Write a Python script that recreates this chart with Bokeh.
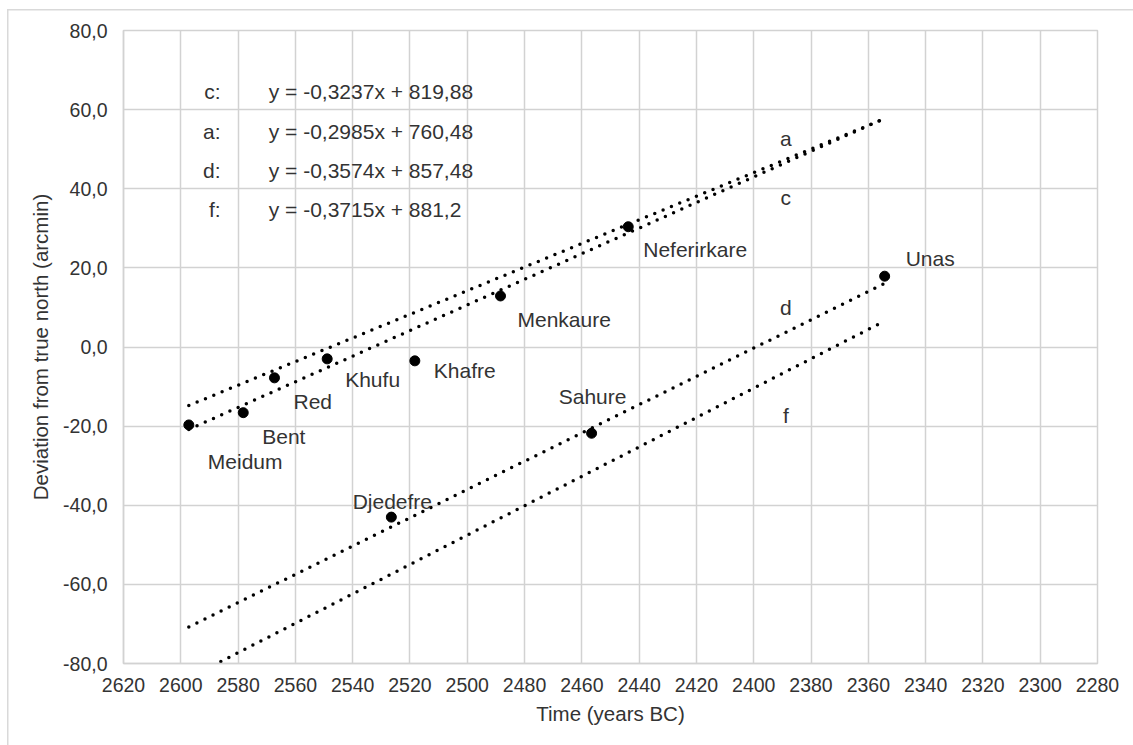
from bokeh.plotting import figure
from bokeh.models import Range1d, FixedTicker, ColumnDataSource
from bokeh.embed import file_html
from bokeh.resources import INLINE
from bokeh.core.properties import value

# ---- data ----
pyramids = ["Meidum", "Bent", "Red", "Khufu", "Djedefre", "Khafre",
            "Menkaure", "Sahure", "Neferirkare", "Unas"]
years = [2597.2, 2578.2, 2567.3, 2548.9, 2526.5, 2518.3,
         2488.4, 2456.6, 2443.8, 2354.3]
deviation = [-19.7, -16.6, -7.8, -3.0, -43.0, -3.5,
             12.9, -21.8, 30.4, 17.9]

trend_names = ["c", "a", "d", "f"]
trend_slopes = [-0.3237, -0.2985, -0.3574, -0.3715]
trend_intercepts = [819.88, 760.48, 857.48, 881.2]

x_ticks = list(range(2620, 2279, -20))
y_ticks = list(range(-80, 81, 20))

# ---- styling / placement ----
FONT = value("Liberation Sans")
FS_TICK = "19.5px"
FS_TEXT = "21px"
FS_TITLE = "20.5px"
TXT = "#333333"
GRID = "#d2d2d2"

label_dx = [19, 19, 19, 18, 1, 19, 17, 1, 15, 21]
label_dy = [37, 24, 24, 21, -16, 10, 24, -37, 23, -18]
label_align = ["left", "left", "left", "left", "center", "left",
               "left", "center", "left", "left"]

p = figure(width=1133, height=745, output_backend="svg", toolbar_location=None,
           x_range=Range1d(2620, 2280), y_range=Range1d(-80, 80),
           min_border_left=123, min_border_right=36,
           min_border_top=30, min_border_bottom=82)

# outer chart border (left and top edges visible in the reference), drawn as CSS background
p.border_fill_color = None
p.background_fill_color = "white"
p.styles = {
    "background-color": "white",
    "background-image": "linear-gradient(#d9d9d9, #d9d9d9), linear-gradient(#d9d9d9, #d9d9d9)",
    "background-size": "1.5px 100%, 100% 1.5px",
    "background-position": "7px 9px, 7px 9px",
    "background-repeat": "no-repeat",
}

xt = FixedTicker(ticks=x_ticks)
yt = FixedTicker(ticks=y_ticks)
p.xaxis.ticker = xt
p.yaxis.ticker = yt
p.xgrid.ticker = xt
p.ygrid.ticker = yt
for g in (p.xgrid, p.ygrid):
    g.grid_line_color = GRID
    g.grid_line_width = 1.5
p.outline_line_color = GRID
p.outline_line_width = 1.5

p.yaxis.major_label_overrides = {v: f"{v:.1f}".replace(".", ",") for v in y_ticks}
p.xaxis.major_label_overrides = {v: str(v) for v in x_ticks}

for ax in (p.xaxis[0], p.yaxis[0]):
    ax.axis_line_color = GRID
    ax.axis_line_width = 1.5
    ax.major_tick_line_color = None
    ax.minor_tick_line_color = None
    ax.major_tick_out = 0
    ax.major_tick_in = 0
    ax.major_label_text_font = "Liberation Sans"
    ax.major_label_text_font_size = FS_TICK
    ax.major_label_text_color = TXT
    ax.axis_label_text_font = "Liberation Sans"
    ax.axis_label_text_font_size = FS_TITLE
    ax.axis_label_text_font_style = "normal"
    ax.axis_label_text_color = TXT

p.xaxis.axis_label = "Time (years BC)"
p.yaxis.axis_label = "Deviation from true north (arcmin)"
p.xaxis.major_label_standoff = 14
p.yaxis.major_label_standoff = 16
p.xaxis.axis_label_standoff = 7
p.yaxis.axis_label_standoff = 8

# trend lines over the data span
x0, x1 = max(years), min(years)
for s, b in zip(trend_slopes, trend_intercepts):
    p.line([x0, x1], [s * x0 + b, s * x1 + b], line_color="black",
           line_width=3.5, line_dash="0 9", line_cap="round")

# points
src = ColumnDataSource(dict(x=years, y=deviation, name=pyramids,
                            dx=label_dx, dy=label_dy, align=label_align))
p.scatter("x", "y", source=src, size=10, color="black")
p.text(x="x", y="y", text="name", source=src, x_offset="dx", y_offset="dy",
       text_align="align", text_baseline="alphabetic", text_font=FONT,
       text_font_size=FS_TEXT, text_color=TXT)

# trend line letters
trend_label_x = [2388.8] * 4
trend_label_y = [37.9, 52.8, 9.9, -17.2]
p.text(x=trend_label_x, y=trend_label_y, text=trend_names, text_align="center",
       text_baseline="alphabetic", text_font=FONT, text_font_size=FS_TEXT,
       text_color=TXT)

# equations block
eq_rows_y = [64.5, 54.4, 44.6, 34.8]
eq_text = [f"y = {str(s).replace('.', ',')}x + {str(b).replace('.', ',')}"
           for s, b in zip(trend_slopes, trend_intercepts)]
p.text(x=[2586.1] * 4, y=eq_rows_y, text=[n + ":" for n in trend_names],
       text_align="right", text_baseline="alphabetic", text_font=FONT,
       text_font_size=FS_TEXT, text_color=TXT)
p.text(x=[2569.3] * 4, y=eq_rows_y, text=eq_text,
       text_align="left", text_baseline="alphabetic", text_font=FONT,
       text_font_size=FS_TEXT, text_color=TXT)

open("out.html", "w").write(file_html(p, INLINE))
